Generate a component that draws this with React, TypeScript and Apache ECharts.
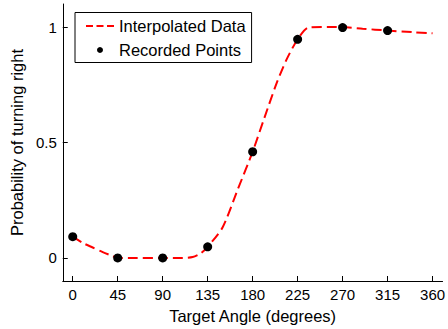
import React, { useEffect, useRef } from "react";
import * as echarts from "echarts";

const recordedAngles = [0, 45, 90, 135, 180, 225, 270, 315];
const recordedProb = [0.092, 0, 0, 0.048, 0.46, 0.947, 0.998, 0.985];

const interpAngles = [0, 10, 20, 30, 40, 45, 60, 90, 110, 120, 128, 135, 150, 165, 180, 192, 204, 214, 225, 236, 255, 270, 290, 315, 340, 360];
const interpProb = [0.092, 0.065, 0.045, 0.025, 0.008, 0, 0, 0, 0, 0.004, 0.02, 0.048, 0.133, 0.296, 0.46, 0.61, 0.757, 0.86, 0.947, 0.998, 1.0, 1.0, 0.993, 0.985, 0.978, 0.973];

const xTicks = [0, 45, 90, 135, 180, 225, 270, 315, 360];
const yTicks = [0, 0.5, 1];

const FONT = "Liberation Sans";

export default function App() {
  const ref = useRef<HTMLDivElement>(null);
  useEffect(() => {
    if (!ref.current) return;
    const chart = echarts.init(ref.current, null, { renderer: "svg" });
    chart.setOption({
      animation: false,
      backgroundColor: "#fff",
      grid: { left: 60, right: 0, top: 4, bottom: 47 },
      legend: {
        orient: "vertical",
        left: 75,
        top: 12.5,
        padding: [4, 6, 3, 10],
        itemWidth: 28,
        itemHeight: 6,
        itemGap: 5,
        borderColor: "#000",
        borderWidth: 1,
        backgroundColor: "#fff",
        textStyle: { fontFamily: FONT, fontSize: 16.5, color: "#000", lineHeight: 19, padding: [0, 0, 0, 0] },
        data: [
          { name: "Interpolated Data", lineStyle: { type: [7, 3.5], width: 2, color: "#ff0000" }, itemStyle: { opacity: 0 } },
          { name: "Recorded Points", icon: "circle", itemStyle: { color: "#000", opacity: 1 } },
        ],
      },
      xAxis: {
        type: "value",
        min: -10,
        max: 370,
        name: "Target Angle (degrees)",
        nameLocation: "middle",
        nameGap: 26,
        nameTextStyle: { fontFamily: FONT, fontSize: 16.5, color: "#000" },
        axisLine: { onZero: false, lineStyle: { color: "#000", width: 1 } },
        axisTick: { inside: true, length: 5, customValues: xTicks, lineStyle: { color: "#000" } },
        axisLabel: { customValues: xTicks, color: "#000", fontFamily: FONT, fontSize: 15, margin: 6 },
        splitLine: { show: false },
      },
      yAxis: {
        type: "value",
        min: -0.1,
        max: 1.1,
        name: "Probability of turning right",
        nameLocation: "middle",
        nameGap: 31,
        nameRotate: 90,
        nameTextStyle: { fontFamily: FONT, fontSize: 16.5, color: "#000" },
        axisLine: { onZero: false, lineStyle: { color: "#000", width: 1 } },
        axisTick: { inside: true, length: 5, customValues: yTicks, lineStyle: { color: "#000" } },
        axisLabel: { customValues: yTicks, color: "#000", fontFamily: FONT, fontSize: 15, margin: 6 },
        splitLine: { show: false },
      },
      series: [
        {
          name: "Interpolated Data",
          type: "line",
          data: interpAngles.map((a, i) => [a, interpProb[i]]),
          symbol: "none",
          smooth: 0.25,
          lineStyle: { color: "#ff0000", width: 2, type: [10, 5] },
          itemStyle: { color: "#ff0000" },
          z: 2,
        },
        {
          name: "Recorded Points",
          type: "scatter",
          data: recordedAngles.map((a, i) => [a, recordedProb[i]]),
          symbol: "circle",
          symbolSize: 9,
          itemStyle: { color: "#000", opacity: 1 },
          z: 3,
        },
      ],
    });
    return () => chart.dispose();
  }, []);
  return (
    <div
      ref={ref}
      style={{ position: "fixed", left: 0, top: 0, width: 448, height: 329, background: "#fff" }}
    />
  );
}
